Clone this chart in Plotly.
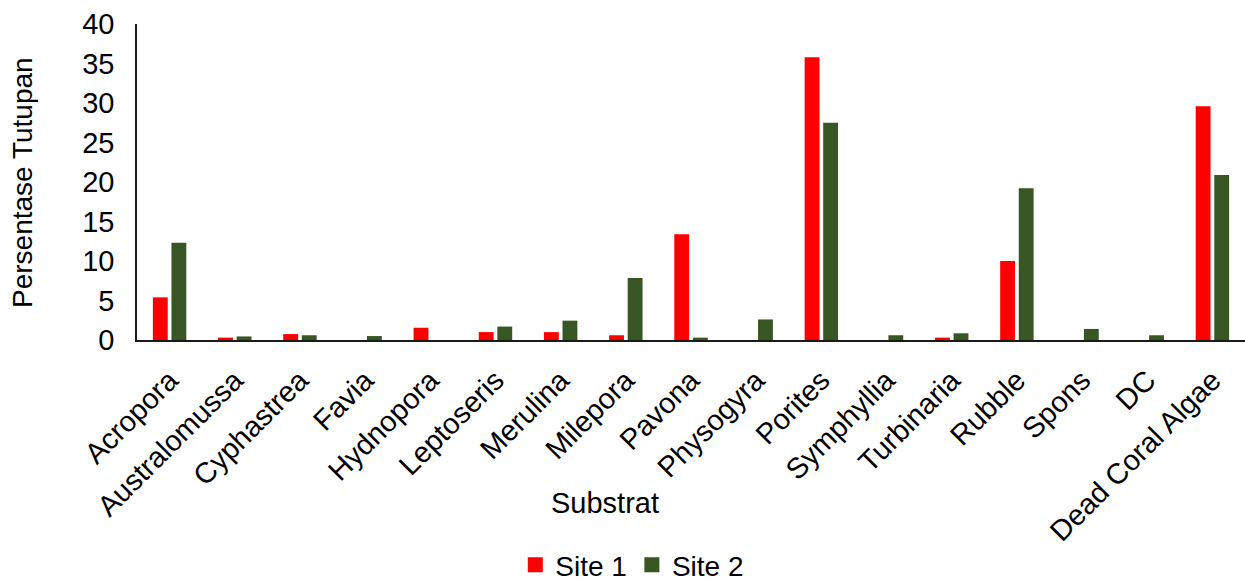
import plotly.graph_objects as go

# Substrate categories and percent cover per site
substrat = [
    "Acropora", "Australomussa", "Cyphastrea", "Favia", "Hydnopora",
    "Leptoseris", "Merulina", "Milepora", "Pavona", "Physogyra",
    "Porites", "Symphyllia", "Turbinaria", "Rubble", "Spons", "DC",
    "Dead Coral Algae",
]
site1 = [5.4, 0.3, 0.75, 0.0, 1.55, 1.0, 1.0, 0.6, 13.4, 0.0,
         35.8, 0.0, 0.3, 10.0, 0.0, 0.0, 29.6]
site2 = [12.3, 0.45, 0.6, 0.5, 0.0, 1.7, 2.45, 7.85, 0.3, 2.6,
         27.5, 0.6, 0.85, 19.2, 1.4, 0.6, 20.9]
y_ticks = [0, 5, 10, 15, 20, 25, 30, 35, 40]

series = [("Site 1", site1, "#FF0000"), ("Site 2", site2, "#375623")]

FONT = "Liberation Sans, Arial, sans-serif"
FS = 29

fig = go.Figure()
for name, vals, color in series:
    fig.add_trace(go.Bar(name=name, x=substrat, y=vals, showlegend=False,
                         marker=dict(color=color, line=dict(width=0))))
# legend entries with larger square swatches
for name, vals, color in series:
    fig.add_trace(go.Scatter(name=name, x=[None], y=[None], mode="markers",
                             marker=dict(symbol="square", size=15, color=color)))

fig.update_layout(
    width=1245, height=581,
    margin=dict(l=137, r=0, t=24, b=241, autoexpand=False),
    paper_bgcolor="white", plot_bgcolor="white",
    font=dict(family=FONT, size=FS, color="black"),
    barmode="group", bargap=0.43, bargroupgap=0.2,
    showlegend=True,
    legend=dict(orientation="h", x=0.447, xanchor="center",
                y=-0.712, yanchor="middle",
                font=dict(family=FONT, size=28, color="black"),
                itemwidth=30, tracegroupgap=0),
    xaxis=dict(
        showline=True, linecolor="#1a1a1a", linewidth=1.5,
        showgrid=False, ticks="", tickangle=-45, automargin=False,
        ticklabelstandoff=10,
        tickfont=dict(family=FONT, size=FS, color="black"),
    ),
    yaxis=dict(
        range=[0, 40], tickvals=y_ticks, automargin=False,
        showline=True, linecolor="#1a1a1a", linewidth=1.5,
        showgrid=False, zeroline=False, ticks="",
        ticklabelstandoff=15,
        tickfont=dict(family=FONT, size=FS, color="black"),
    ),
    annotations=[
        dict(text="Substrat", xref="paper", yref="paper",
             x=(605 - 137) / 1108, y=(340 - 503) / 316,
             xanchor="center", yanchor="middle", showarrow=False,
             font=dict(family=FONT, size=FS, color="black")),
        dict(text="Persentase Tutupan", xref="paper", yref="paper",
             x=(22 - 137) / 1108, y=(340 - 183) / 316,
             xanchor="center", yanchor="middle", showarrow=False,
             textangle=-90,
             font=dict(family=FONT, size=28, color="black")),
    ],
)

fig.write_html("out.html")
